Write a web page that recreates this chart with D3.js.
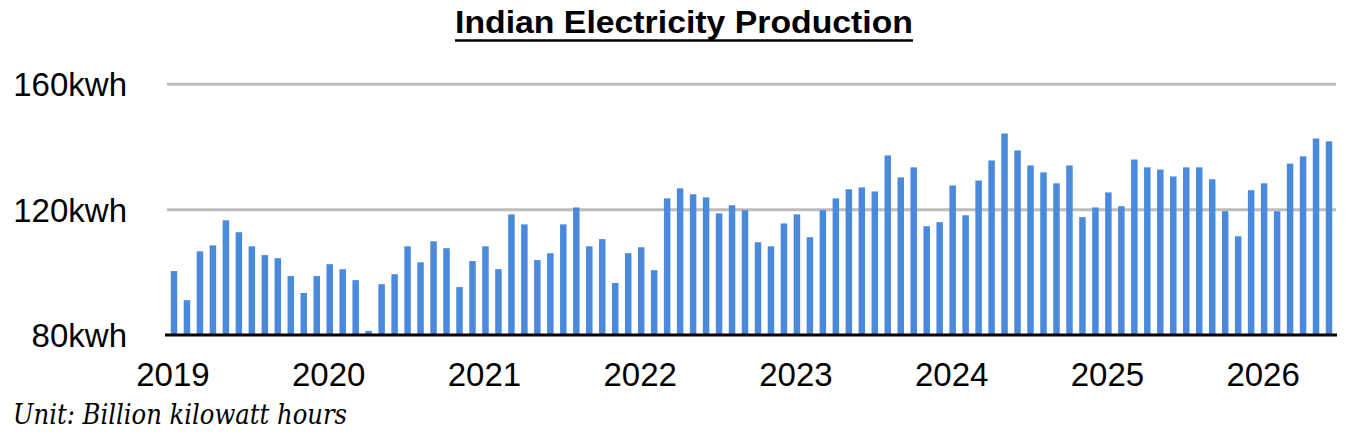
<!DOCTYPE html>
<html>
<head>
<meta charset="utf-8">
<script src="https://cdn.jsdelivr.net/npm/d3@7"></script>
<style>
  html, body { margin: 0; padding: 0; background: #fff; }
</style>
</head>
<body>
<div id="chart-area"></div>
<script>
// monthly production, Jan 2019 .. Jun 2026 (billion kWh)
const values = [
  100.4, 91.1, 106.7, 108.6, 116.6, 112.8, 108.3, 105.5, 104.5, 98.8, 93.4, 98.8,
  102.6, 101.0, 97.5, 81.3, 96.2, 99.4, 108.3, 103.2, 109.9, 107.7, 95.3, 103.6,
  108.3, 101.0, 118.5, 115.3, 103.9, 106.1, 115.3, 120.7, 108.3, 110.6, 96.6, 106.1,
  108.0, 100.7, 123.6, 126.8, 124.9, 123.9, 118.8, 121.4, 119.8, 109.6, 108.3, 115.6,
  118.5, 111.2, 119.8, 123.6, 126.5, 127.1, 125.8, 137.3, 130.3, 133.5, 114.7, 116.0,
  127.7, 118.2, 129.3, 135.7, 144.3, 138.9, 134.1, 131.9, 128.4, 134.1, 117.6, 120.7,
  125.5, 121.1, 136.0, 133.5, 132.8, 130.6, 133.5, 133.5, 129.7, 119.5, 111.5, 126.2,
  128.4, 119.5, 134.7, 137.0, 142.7, 141.8
];
const years = ["2019", "2020", "2021", "2022", "2023", "2024", "2025", "2026"];
const months = ["01", "02", "03", "04", "05", "06", "07", "08", "09", "10", "11", "12"];
const yTicks = [80, 120, 160];
const tickSuffix = "kwh";

const title = "Indian Electricity Production";
const note = "Unit: Billion kilowatt hours";

const categories = [];
years.forEach(y => months.forEach(m => categories.push(y + "-" + m)));
const data = values.map((v, i) => ({ key: categories[i], value: v }));

const W = 1347, H = 441;
const plot = { left: 167.5, right: 1335.5, top: 84.3, bottom: 335 };

const svg = d3.select('#chart-area')
  .append('svg')
  .attr('width', W)
  .attr('height', H)
  .style('display', 'block');

const x = d3.scaleBand()
  .domain(data.map(d => d.key))
  .range([plot.left, plot.right])
  .paddingInner(0.5)
  .paddingOuter(0.25);

const y = d3.scaleLinear()
  .domain([80, 160])
  .range([plot.bottom, plot.top]);

// gridlines
svg.append('g')
  .selectAll('line')
  .data(yTicks.filter(t => t > 80))
  .join('line')
  .attr('x1', 167)
  .attr('x2', 1336)
  .attr('y1', d => y(d))
  .attr('y2', d => y(d))
  .attr('stroke', '#bdbdbd')
  .attr('stroke-width', 3);

// bars
svg.append('g')
  .selectAll('rect')
  .data(data)
  .join('rect')
  .attr('x', d => x(d.key))
  .attr('width', x.bandwidth())
  .attr('y', d => y(d.value))
  .attr('height', d => y(80) - y(d.value))
  .attr('fill', '#4a89dc');

// baseline
svg.append('line')
  .attr('x1', 165)
  .attr('x2', 1337)
  .attr('y1', y(80))
  .attr('y2', y(80))
  .attr('stroke', '#000')
  .attr('stroke-width', 3);

// y labels
svg.append('g')
  .selectAll('text')
  .data(yTicks)
  .join('text')
  .attr('x', 127)
  .attr('y', d => y(d) + 12)
  .attr('text-anchor', 'end')
  .style('font', '33px "Liberation Sans", Arial, sans-serif')
  .attr('fill', '#000')
  .text(d => d + tickSuffix);

// year labels under January bars
svg.append('g')
  .selectAll('text')
  .data(years)
  .join('text')
  .attr('x', d => x(d + "-01") + x.bandwidth() / 2 - 1)
  .attr('y', 386)
  .attr('text-anchor', 'middle')
  .style('font', '33px "Liberation Sans", Arial, sans-serif')
  .attr('fill', '#000')
  .text(d => d);

// title
svg.append('text')
  .attr('x', 684)
  .attr('y', 33)
  .attr('text-anchor', 'middle')
  .attr('textLength', 458)
  .attr('lengthAdjust', 'spacingAndGlyphs')
  .style('font', 'bold 32px "Liberation Sans", Arial, sans-serif')
  .text(title);

svg.append('line')
  .attr('x1', 455)
  .attr('x2', 913)
  .attr('y1', 40.5)
  .attr('y2', 40.5)
  .attr('stroke', '#000')
  .attr('stroke-width', 2.5);

// footnote
svg.append('text')
  .attr('x', 13)
  .attr('y', 424)
  .attr('textLength', 334)
  .attr('lengthAdjust', 'spacingAndGlyphs')
  .style('font', 'italic 27px "DejaVu Serif", "Liberation Serif", serif')
  .text(note);
</script>
</body>
</html>
